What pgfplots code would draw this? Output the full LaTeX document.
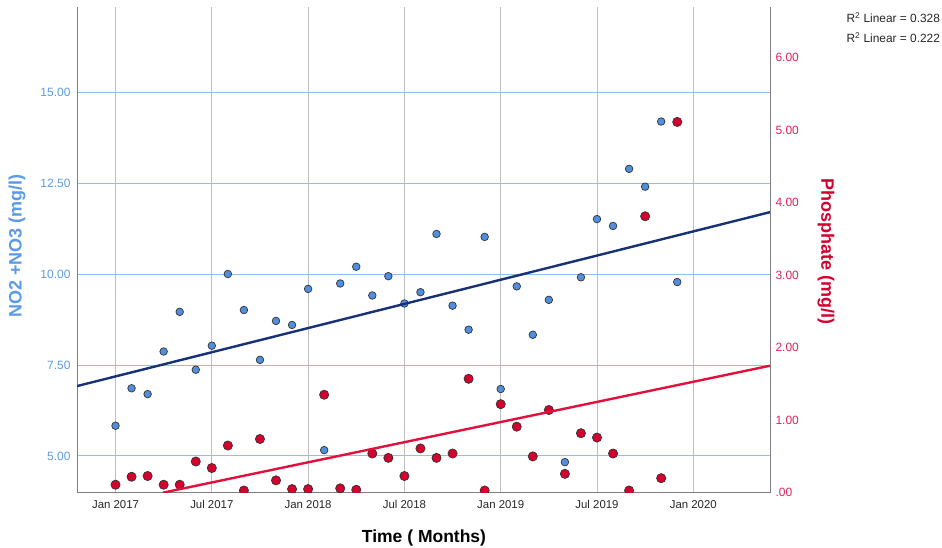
\documentclass[border=0pt]{standalone}
\usepackage{pgfplots}
\pgfplotsset{compat=1.18}
\usepackage{pgfplotstable}
\usepackage{fontspec}
\setmainfont{Liberation Sans}
\definecolor{nblue}{HTML}{5B9BE6}
\definecolor{mblue}{HTML}{4F8FDD}
\definecolor{lblue}{HTML}{94BDEE}
\definecolor{dblue}{HTML}{17307A}
\definecolor{pred}{HTML}{E0245A}
\definecolor{mred}{HTML}{D5002D}
\definecolor{lred}{HTML}{E2103C}
\pgfplotstableread{
m no
0 5.83
1 6.86
2 6.70
3 7.87
4 8.96
5 7.37
6 8.03
7 10.00
8 9.01
9 7.64
10 8.71
11 8.60
12 9.59
13 5.16
14 9.74
15 10.20
16 9.41
17 9.94
18 9.19
19 9.50
20 11.10
21 9.13
22 8.47
23 11.02
24 6.84
25 9.66
26 8.33
27 9.29
28 4.83
29 9.91
30 11.51
31 11.32
32 12.89
33 12.40
34 14.19
35 9.78
}\nitrate
\pgfplotstableread{
m ph
0 0.11
1 0.22
2 0.23
3 0.11
4 0.11
5 0.43
6 0.34
7 0.65
8 0.03
9 0.74
10 0.17
11 0.05
12 0.05
13 1.35
14 0.06
15 0.04
16 0.54
17 0.48
18 0.23
19 0.61
20 0.48
21 0.54
22 1.57
23 0.03
24 1.22
25 0.91
26 0.50
27 1.14
28 0.26
29 0.82
30 0.76
31 0.54
32 0.03
33 3.81
34 0.20
35 5.11
}\phosphate
\begin{document}
\begin{tikzpicture}
\useasboundingbox (0,0) rectangle (942pt,548pt);
\begin{axis}[
  at={(77pt,55.3pt)}, anchor=south west, scale only axis,
  width=693pt, height=485.4pt,
  xmin=-2.4, xmax=40.78, ymin=3.99, ymax=17.33,
  axis x line*=bottom, axis y line*=left,
  axis line style={-, draw=black!50, line width=0.9pt},
  xtick={0,6,12,18,24,30,36},
  xticklabels={Jan 2017,Jul 2017,Jan 2018,Jul 2018,Jan 2019,Jul 2019,Jan 2020},
  ytick={5,7.5,10,12.5,15},
  yticklabels={5.00,7.50,10.00,12.50,15.00},
  major tick length=0pt,
  xmajorgrids, ymajorgrids,
  x grid style={draw=black!25, line width=0.9pt},
  y grid style={draw=lblue, line width=0.9pt},
  xticklabel style={font=\fontsize{11.4}{12}\selectfont, text=black!85, yshift=-4pt},
  yticklabel style={font=\fontsize{12}{13}\selectfont, text=nblue, xshift=-3pt},
  ylabel={NO2 +NO3 (mg/l)},
  ylabel style={font=\fontsize{18}{19}\selectfont\bfseries, text=nblue,
    at={(axis description cs:-0.0866,0.508)}, anchor=center, rotate=0},
  xlabel={Time ( Months)},
  xlabel style={font=\fontsize{17.5}{18}\selectfont\bfseries, text=black,
    at={(axis description cs:0.5007,-0.0933)}, anchor=center},
  clip marker paths=true,
]
\addplot[only marks, mark=*, mark size=3.8pt,
  mark options={fill=mblue, draw=black!80, line width=0.7pt}] table[x=m, y=no] {\nitrate};
\addplot[dblue, line width=2.4pt, no marks] coordinates {(-2.4,6.92) (40.78,11.70)};
\end{axis}
\begin{axis}[
  at={(77pt,55.3pt)}, anchor=south west, scale only axis,
  width=693pt, height=485.4pt,
  xmin=-2.4, xmax=40.78, ymin=0, ymax=6.69,
  axis x line=none, axis y line*=right,
  axis line style={-, draw=black!50, line width=0.9pt},
  ytick={0,1,2,3,4,5,6},
  yticklabels={.00,1.00,2.00,3.00,4.00,5.00,6.00},
  major tick length=0pt,
  yticklabel style={font=\fontsize{12}{13}\selectfont, text=pred, xshift=2pt},
  ylabel={Phosphate (mg/l)},
  ylabel style={font=\fontsize{18}{19}\selectfont\bfseries, text=mred,
    at={(axis description cs:1.0808,0.497)}, anchor=center, rotate=180},
  clip marker paths=true,
]
\addplot[only marks, mark=*, mark size=4.6pt,
  mark options={fill=mred, draw=black!80, line width=0.7pt}] table[x=m, y=ph] {\phosphate};
\addplot[lred, line width=2.4pt, no marks] coordinates {(2.95,0) (40.78,1.75)};
\end{axis}
\node[anchor=west, font=\fontsize{11.9}{12}\selectfont, text=black!85] at (843pt,530.3pt) {R\textsuperscript{2} Linear = 0.328};
\node[anchor=west, font=\fontsize{11.9}{12}\selectfont, text=black!85] at (843pt,510.5pt) {R\textsuperscript{2} Linear = 0.222};
\end{tikzpicture}
\end{document}
